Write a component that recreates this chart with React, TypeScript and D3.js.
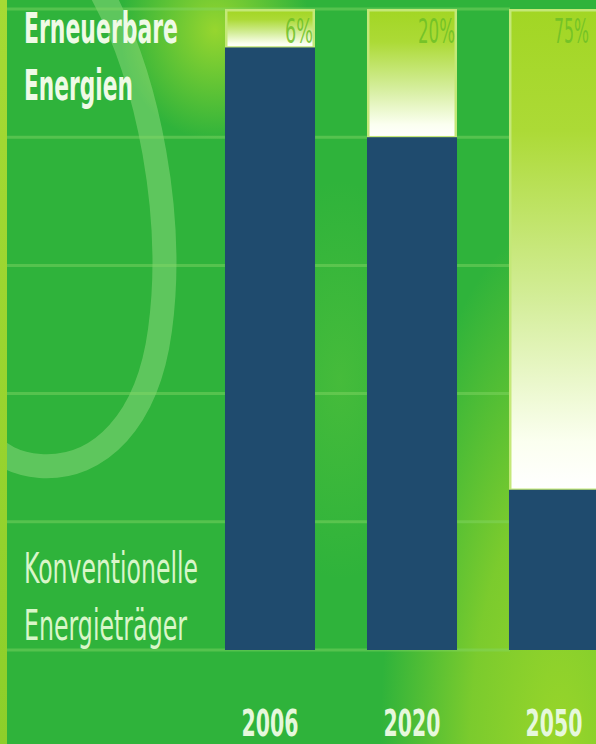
import React from "react";
import * as d3 from "d3";

const years = ["2006", "2020", "2050"];
const renewableShares = [6, 20, 75];
const shareLabels = ["6%", "20%", "75%"];
const gridTicks = [0, 20, 40, 60, 80, 100];
const topLabelLines = ["Erneuerbare", "Energien"];
const bottomLabelLines = ["Konventionelle", "Energieträger"];

const W = 596;
const H = 744;
const FONT = "'Liberation Sans Narrow', 'DejaVu Sans Condensed', 'Roboto Condensed', sans-serif";

export default function App() {
  const x = d3
    .scaleBand<string>()
    .domain(years)
    .range([199, 625])
    .paddingInner(0.366)
    .paddingOuter(0.183);
  const y = d3.scaleLinear().domain([0, 100]).range([650, 9]);
  const bw = x.bandwidth();

  const shareLen = [28, 37, 35];
  const yearLen = [57, 57, 57];

  return (
    <svg
      width={W}
      height={H}
      viewBox={`0 0 ${W} ${H}`}
      style={{ position: "fixed", left: 0, top: 0, display: "block" }}
    >
      <defs>
        <linearGradient id="ren" x1="0" y1="0" x2="0" y2="1">
          <stop offset="0" stopColor="#a2d624" />
          <stop offset="0.25" stopColor="#acda36" />
          <stop offset="0.6" stopColor="#d3ed98" />
          <stop offset="0.9" stopColor="#fbfff0" />
          <stop offset="1" stopColor="#ffffff" />
        </linearGradient>
        <radialGradient id="glowR" cx="0.5" cy="0.5" r="0.5">
          <stop offset="0" stopColor="#9ad62a" stopOpacity="1" />
          <stop offset="0.5" stopColor="#8ed12a" stopOpacity="0.8" />
          <stop offset="1" stopColor="#8ed12a" stopOpacity="0" />
        </radialGradient>
        <radialGradient id="glowT" cx="0.5" cy="0.5" r="0.5">
          <stop offset="0" stopColor="#9cd82e" stopOpacity="0.95" />
          <stop offset="1" stopColor="#9cd82e" stopOpacity="0" />
        </radialGradient>
        <radialGradient id="glowM" cx="0.5" cy="0.5" r="0.5">
          <stop offset="0" stopColor="#5cc43a" stopOpacity="0.5" />
          <stop offset="1" stopColor="#5cc43a" stopOpacity="0" />
        </radialGradient>
        <linearGradient id="strip" x1="0" y1="0" x2="0" y2="1">
          <stop offset="0" stopColor="#a6da34" />
          <stop offset="1" stopColor="#8ccf2a" />
        </linearGradient>
      </defs>

      {/* background */}
      <rect x={0} y={0} width={W} height={H} fill="#2fb33b" />
      <ellipse cx={340} cy={380} rx={90} ry={200} fill="url(#glowM)" />
      <ellipse cx={560} cy={760} rx={180} ry={540} fill="url(#glowR)" />
      <ellipse cx={215} cy={30} rx={95} ry={110} fill="url(#glowT)" />
      <path
        d="M 100 -10 C 150 80, 175 220, 160 330 C 148 420, 100 470, 40 466 C 15 464, 0 455, -15 440"
        fill="none"
        stroke="#c4f0a4"
        strokeOpacity={0.32}
        strokeWidth={24}
      />
      <rect x={0} y={0} width={7} height={H} fill="url(#strip)" />

      {/* grid lines */}
      {gridTicks.map((t) => (
        <line
          key={t}
          x1={7}
          x2={510}
          y1={y(t)}
          y2={y(t)}
          stroke="#86d866"
          strokeOpacity={0.45}
          strokeWidth={3}
        />
      ))}

      {/* bars */}
      {years.map((yr, i) => {
        const x0 = x(yr) as number;
        const conv = 100 - renewableShares[i];
        return (
          <g key={yr}>
            <rect
              x={x0 + 1.25}
              y={y(100) + 1.25}
              width={bw - 2.5}
              height={y(conv) - y(100) - 1.25}
              fill="url(#ren)"
              stroke="#c4e878"
              strokeWidth={2.5}
            />
            <rect x={x0} y={y(conv)} width={bw} height={y(0) - y(conv)} fill="#1f4b6e" />
            <text
              x={Math.min(x0 + bw - 2, W - 7)}
              y={43}
              textAnchor="end"
              fontFamily={FONT}
              fontSize={33}
              fill="#6cbf26"
              fillOpacity={0.85}
              textLength={shareLen[i]}
              lengthAdjust="spacingAndGlyphs"
            >
              {shareLabels[i]}
            </text>
            <text
              x={x0 + bw / 2}
              y={736}
              textAnchor="middle"
              fontFamily={FONT}
              fontWeight="bold"
              fontSize={38}
              fill="#e6f8dc"
              textLength={yearLen[i]}
              lengthAdjust="spacingAndGlyphs"
            >
              {yr}
            </text>
          </g>
        );
      })}

      {/* left labels */}
      <text
        x={24}
        y={43}
        fontFamily={FONT}
        fontWeight="bold"
        fontSize={42}
        fill="#effae6"
        textLength={154}
        lengthAdjust="spacingAndGlyphs"
      >
        {topLabelLines[0]}
      </text>
      <text
        x={24}
        y={100}
        fontFamily={FONT}
        fontWeight="bold"
        fontSize={42}
        fill="#effae6"
        textLength={109}
        lengthAdjust="spacingAndGlyphs"
      >
        {topLabelLines[1]}
      </text>
      <text
        x={24}
        y={583}
        fontFamily={FONT}
        fontSize={42}
        fill="#d9f6c9"
        textLength={174}
        lengthAdjust="spacingAndGlyphs"
      >
        {bottomLabelLines[0]}
      </text>
      <text
        x={24}
        y={640}
        fontFamily={FONT}
        fontSize={42}
        fill="#d9f6c9"
        textLength={163}
        lengthAdjust="spacingAndGlyphs"
      >
        {bottomLabelLines[1]}
      </text>
    </svg>
  );
}
